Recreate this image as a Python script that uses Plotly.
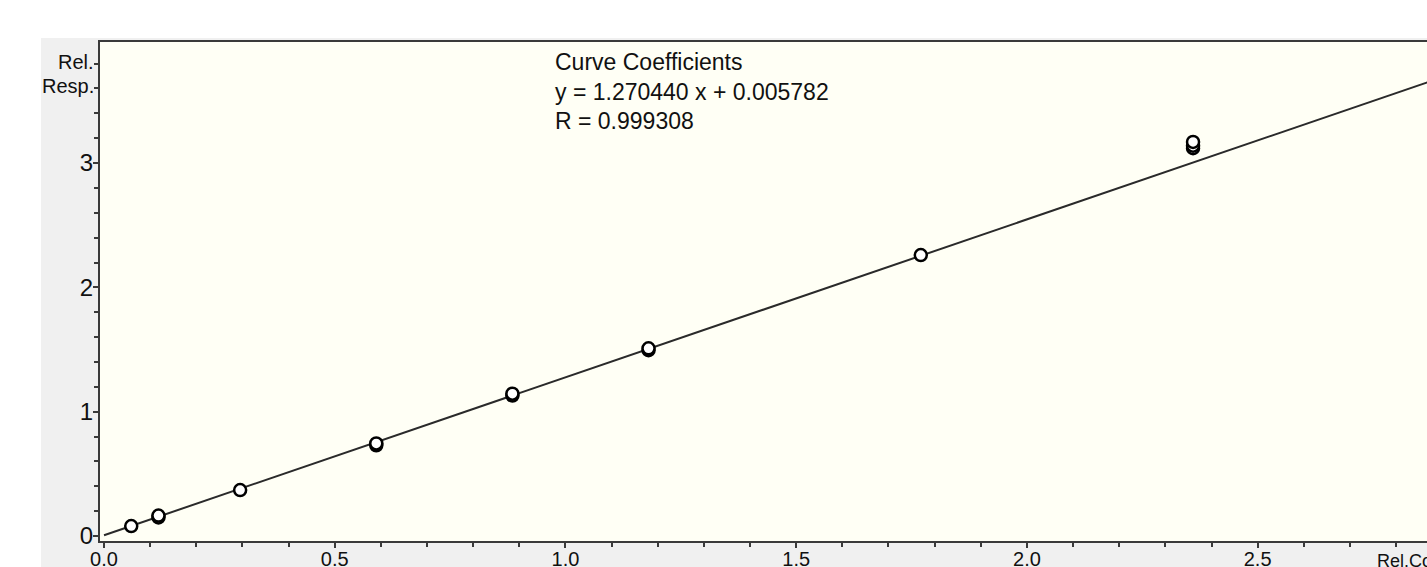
import plotly.graph_objects as go

# ---- data ----
rel_conc = [0.059, 0.118, 0.118, 0.295, 0.59, 0.59, 0.885, 0.885, 1.18, 1.18, 1.77, 2.36, 2.36, 2.36]
rel_resp = [0.08, 0.15, 0.165, 0.37, 0.73, 0.745, 1.13, 1.145, 1.495, 1.51, 2.26, 3.12, 3.14, 3.17]
slope = 1.270440
intercept = 0.005782
r_value = 0.999308
fit_x = [0.0, 2.95]
fit_y = [slope * x + intercept for x in fit_x]
x_tickvals = [0.0, 0.5, 1.0, 1.5, 2.0, 2.5]
x_ticktext = ["0.0", "0.5", "1.0", "1.5", "2.0", "2.5"]
y_tickvals = [0, 1, 2, 3]
y_ticktext = ["0", "1", "2", "3"]

W, H = 1427, 567
L, R, T, B = 100, 0, 42, 26
PW, PH = W - L - R, H - T - B

def px(xp):
    return (xp - L) / PW

def py(yp):
    return (H - B - yp) / PH

FONT = "Liberation Sans, Arial, sans-serif"
AX = "#3a3a3a"
TXT = "#111111"

fig = go.Figure()
fig.add_trace(go.Scatter(x=fit_x, y=fit_y, mode="lines",
                         line=dict(color="#2a2a2a", width=2),
                         hoverinfo="skip", showlegend=False))
fig.add_trace(go.Scatter(x=rel_conc, y=rel_resp, mode="markers",
                         marker=dict(symbol="circle", size=12, color="white",
                                     line=dict(color="black", width=2.5)),
                         showlegend=False))

fig.update_layout(
    width=W, height=H,
    margin=dict(l=L, r=R, t=T, b=B, autoexpand=False),
    paper_bgcolor="#f0f0f0",
    plot_bgcolor="#fffff5",
    font=dict(family=FONT, color=TXT),
    showlegend=False,
    shapes=[
        dict(type="rect", xref="paper", yref="paper", x0=px(-5), x1=px(W + 5),
             y0=py(38), y1=py(-5), fillcolor="white", line=dict(width=0), layer="below"),
        dict(type="rect", xref="paper", yref="paper", x0=px(-5), x1=px(41),
             y0=py(H + 5), y1=py(-5), fillcolor="white", line=dict(width=0), layer="below"),
    ],
)

fig.update_xaxes(
    range=[-0.0087, 2.867],
    tickvals=x_tickvals, ticktext=x_ticktext,
    ticks="outside", ticklen=5, tickwidth=1.5, tickcolor=AX,
    minor=dict(dtick=0.1, tick0=0, ticks="outside", ticklen=4, tickwidth=1.5, tickcolor=AX, showgrid=False),
    showline=True, linecolor=AX, linewidth=2, mirror=True,
    showgrid=False, zeroline=False, automargin=False,
    ticklabelstandoff=-6,
    tickfont=dict(size=20, family=FONT, color=TXT),
)
fig.update_yaxes(
    range=[-0.040, 3.974],
    tickvals=y_tickvals, ticktext=y_ticktext,
    ticks="outside", ticklen=5, tickwidth=1.5, tickcolor=AX,
    minor=dict(dtick=0.2, tick0=0, ticks="outside", ticklen=4, tickwidth=1.5, tickcolor=AX, showgrid=False),
    showline=True, linecolor=AX, linewidth=2, mirror=False,
    showgrid=False, zeroline=False, automargin=False,
    ticklabelstandoff=-5,
    tickfont=dict(size=24, family=FONT, color=TXT),
)

ann_font = dict(family=FONT, size=23, color=TXT)
lines = ["Curve Coefficients",
         f"y = {slope:.6f} x + {intercept:.6f}",
         f"R = {r_value:.6f}"]
for i, txt in enumerate(lines):
    fig.add_annotation(text=txt, xref="paper", yref="paper",
                       x=px(553), y=py(62 + 29.5 * i), xanchor="left", yanchor="middle",
                       showarrow=False, font=ann_font)

fig.add_annotation(text="Rel.", xref="paper", yref="paper", x=px(96), y=py(62),
                   xanchor="right", yanchor="middle", showarrow=False,
                   font=dict(family=FONT, size=20, color=TXT))
fig.add_annotation(text="Resp.", xref="paper", yref="paper", x=px(96), y=py(86),
                   xanchor="right", yanchor="middle", showarrow=False,
                   font=dict(family=FONT, size=20, color=TXT))
fig.add_annotation(text="Rel.Conc.", xref="paper", yref="paper", x=px(1375), y=py(549),
                   xanchor="left", yanchor="top", showarrow=False,
                   font=dict(family=FONT, size=18, color=TXT))

fig.write_html("out.html")
